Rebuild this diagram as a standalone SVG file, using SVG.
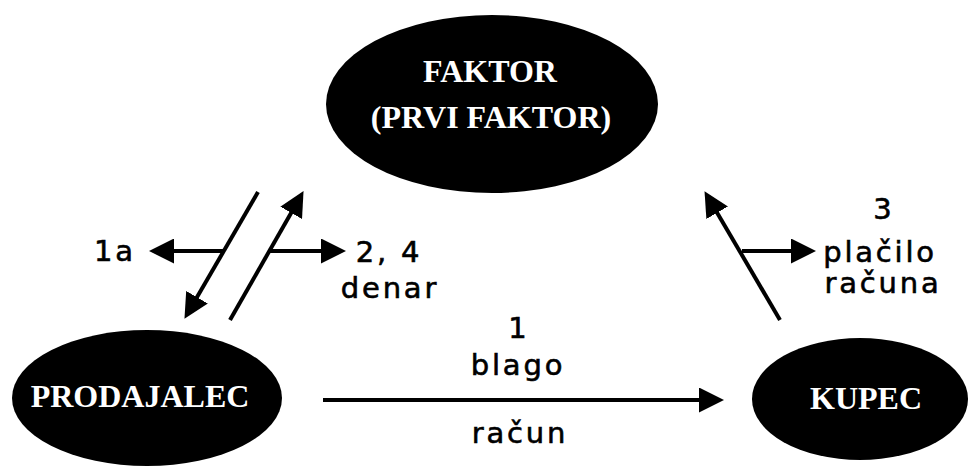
<svg xmlns="http://www.w3.org/2000/svg" width="969" height="467" viewBox="0 0 969 467">
<style>
.node{fill:#000;}
.nt{font-family:"Liberation Serif","Times New Roman",serif;font-weight:bold;font-size:32px;fill:#fff;text-anchor:middle;}
.lbl{font-family:"DejaVu Sans",Verdana,sans-serif;font-size:29px;fill:#000;stroke:#000;stroke-width:0.6px;text-anchor:middle;letter-spacing:2.8px;}
.conn line{stroke:#000;stroke-width:4;fill:none;marker-end:url(#ah);}
</style>
<defs>
<marker id="ah" markerUnits="userSpaceOnUse" markerWidth="25" markerHeight="25" refX="12" refY="12.5" orient="auto" viewBox="0 0 25 25">
<path d="M0,0 L25,12.5 L0,25 z" fill="#000"/>
</marker>
</defs>
<rect width="969" height="467" fill="#fff"/>
<g id="faktor">
<ellipse class="node" cx="492" cy="104" rx="166" ry="89"/>
<text class="nt" x="490" y="82">FAKTOR</text>
<text class="nt" x="491" y="128">(PRVI FAKTOR)</text>
</g>
<g id="prodajalec">
<ellipse class="node" cx="147" cy="398" rx="135" ry="68"/>
<text class="nt" x="140" y="407">PRODAJALEC</text>
</g>
<g id="kupec">
<ellipse class="node" cx="860" cy="399" rx="108" ry="61"/>
<text class="nt" x="866" y="409">KUPEC</text>
</g>
<g id="connectors" class="conn">
<line x1="323" y1="400" x2="711" y2="400"/>
<line x1="258" y1="192" x2="191" y2="307.6"/>
<line x1="230" y1="320" x2="297.1" y2="202.4"/>
<line x1="780" y1="320" x2="711.1" y2="202.4"/>
<line x1="224" y1="251" x2="162" y2="251"/>
<line x1="269" y1="251" x2="333" y2="251"/>
<line x1="742" y1="251" x2="803" y2="251"/>
</g>
<g id="labels">
<text class="lbl" x="115" y="261">1a</text>
<text class="lbl" x="389" y="262">2, 4</text>
<text class="lbl" x="390" y="298">denar</text>
<text class="lbl" x="519" y="338">1</text>
<text class="lbl" x="518" y="375">blago</text>
<text class="lbl" x="520" y="443">račun</text>
<text class="lbl" x="884" y="219">3</text>
<text class="lbl" x="880" y="262">plačilo</text>
<text class="lbl" x="883" y="293">računa</text>
</g>
</svg>
